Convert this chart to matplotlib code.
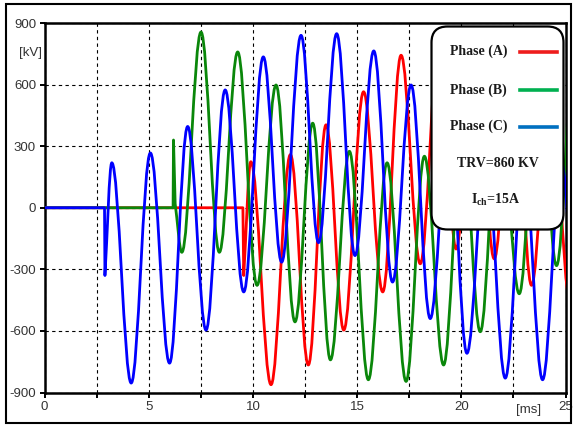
import matplotlib
matplotlib.use("Agg")
import numpy as np
import matplotlib.pyplot as plt
from matplotlib.path import Path
from matplotlib.patches import PathPatch, FancyBboxPatch, Rectangle
from matplotlib.lines import Line2D
from matplotlib.transforms import IdentityTransform

# ---- data: (time [ms], voltage [kV]) at turning points ----
# kinds: 'l' straight segment, 'c' smooth swing between extrema, 'e' swing ending at an extremum
phase_a_t = [0, 9.52, 9.56, 9.90, 10.87, 11.80, 12.66, 13.51, 14.36, 15.31, 16.23, 17.11,
             18.03, 18.95, 19.75, 20.65, 21.58, 22.48, 23.37, 24.28, 25.20]
phase_a_v = [0, 0, -330, 224, -862, 259, -766, 404, -596, 565, -410, 743,
             -273, 830, -201, 840, -249, 760, -378, 650, -440]
phase_a_k = "-lleccccccccccccccccc"

phase_b_t = [0, 6.17, 6.19, 6.27, 6.59, 7.51, 8.39, 9.27, 10.20, 11.11, 12.02, 12.87, 13.72,
             14.63, 15.54, 16.44, 17.35, 18.23, 19.15, 20.05, 20.91, 21.82, 22.78, 23.70,
             24.57, 25.45]
phase_b_v = [0, 0, 330, 20, -217, 856, -217, 759, -378, 598, -556, 412, -741,
             275, -838, 219, -846, 251, -766, 365, -604, 540, -419, 690,
             -282, 800]
phase_b_k = "-llleccccccccccccccccccccc"

phase_c_t = [0, 2.88, 2.90, 3.23, 4.16, 5.08, 6.00, 6.87, 7.75, 8.67, 9.56, 10.50, 11.38,
             12.31, 13.15, 14.02, 14.90, 15.80, 16.70, 17.59, 18.51, 19.40, 20.27, 21.18,
             22.11, 23.00, 23.90, 24.80, 25.70]
phase_c_v = [0, 0, -330, 219, -854, 267, -757, 396, -596, 574, -410, 735, -265,
             840, -170, 848, -233, 764, -362, 598, -540, 420, -709, 270,
             -830, 210, -838, 220, -800]
phase_c_k = "-lleccccccccccccccccccccccccc"

series_names = ["Phase (A)", "Phase (B)", "Phase (C)"]
x_ticks = [0, 2.5, 5, 7.5, 10, 12.5, 15, 17.5, 20, 22.5, 25]
x_tick_labels = ["0", "", "5", "", "10", "", "15", "", "20", "", "25"]
y_ticks = [-900, -600, -300, 0, 300, 600, 900]
note_trv = "TRV=860 KV"
note_ich = r"$\mathbf{I}_{\mathbf{ch}}$=15A"

plt.rcParams["font.family"] = ["Liberation Sans", "DejaVu Sans"]
plt.rcParams["mathtext.fontset"] = "custom"
plt.rcParams["mathtext.bf"] = "Liberation Serif:bold"
plt.rcParams["mathtext.rm"] = "Liberation Serif"

W, H = 573, 425
fig = plt.figure(figsize=(W / 100, H / 100), dpi=100)
ax = fig.add_axes([44.5 / W, 1 - 392.5 / H, (565.5 - 44.5) / W, (392.5 - 23) / H])

K = 0.3634


def build_path(t, v, kinds):
    verts = [(t[0], v[0])]
    codes = [Path.MOVETO]
    for i in range(1, len(t)):
        t0, v0, t1, v1 = t[i - 1], v[i - 1], t[i], v[i]
        dt = t1 - t0
        k = kinds[i]
        if k == "l":
            verts.append((t1, v1))
            codes.append(Path.LINETO)
        elif k == "c":
            verts += [(t0 + K * dt, v0), (t1 - K * dt, v1), (t1, v1)]
            codes += [Path.CURVE4] * 3
        else:
            verts += [(t0 + dt / 3, v0 + (v1 - v0) / 3), (t1 - K * dt, v1), (t1, v1)]
            codes += [Path.CURVE4] * 3
    return Path(verts, codes)


line_colors = ["#ff0000", "#0a870a", "#0000ff"]
all_series = [(phase_a_t, phase_a_v, phase_a_k), (phase_b_t, phase_b_v, phase_b_k),
              (phase_c_t, phase_c_v, phase_c_k)]
for z, ((t, v, k), col) in enumerate(zip(all_series, line_colors)):
    p = build_path(t, v, k)
    ax.add_patch(PathPatch(p, fill=False, edgecolor=col, lw=2.0, zorder=3 + z,
                           joinstyle="round", capstyle="butt"))

ax.set_xlim(0, 25)
ax.set_ylim(-900, 900)
ax.set_xticks(x_ticks)
ax.set_xticklabels(x_tick_labels)
ax.set_yticks(y_ticks)
ax.set_yticklabels([str(y) for y in y_ticks])
ax.grid(True, color="black", linestyle=(0, (3, 3)), linewidth=0.8, zorder=1)
ax.set_axisbelow(True)
ax.tick_params(direction="out", length=3.6, width=1.4, labelsize=9.5, pad=2.5,
               labelcolor="#333333")
for s in ax.spines.values():
    s.set_linewidth(1.8)

fig.text(31 / W, 1 - 53 / H, "[kV]", ha="center", va="center", fontsize=9.5, color="#333333")
fig.text(529 / W, 1 - 410 / H, "[ms]", ha="center", va="center", fontsize=9.5, color="#333333")

# legend box
box = FancyBboxPatch((431.5, H - 229.5), 132, 203,
                     boxstyle="round,pad=0,rounding_size=16",
                     transform=IdentityTransform(), facecolor="white",
                     edgecolor="black", lw=1.6, zorder=6)
fig.add_artist(box)
legend_colors = ["#ee1c1c", "#00b050", "#0070c0"]
leg_y = [51.7, 90, 126.7]
for name, col, y in zip(series_names, legend_colors, leg_y):
    fig.text(450 / W, 1 - y / H, name, ha="left", va="center", fontsize=10,
             family="Liberation Serif", weight="bold", color="#1a1a1a", zorder=7)
    fig.add_artist(Line2D([520 / W, 557 / W], [1 - y / H, 1 - y / H], color=col, lw=2.6,
                          transform=fig.transFigure, zorder=7))
fig.text(497.5 / W, 1 - 163.3 / H, note_trv, ha="center", va="center", fontsize=10,
         family="Liberation Serif", weight="bold", color="#1a1a1a", zorder=7)
fig.text(496 / W, 1 - 200 / H, note_ich, ha="center", va="center", fontsize=10,
         family="Liberation Serif", weight="bold", color="#1a1a1a", zorder=7)

# outer frame
fig.add_artist(Rectangle((6 / W, 2 / H), 565 / W, 419 / H, transform=fig.transFigure,
                         fill=False, lw=1.5, edgecolor="black", zorder=8))

fig.savefig("out.png", dpi=100)
